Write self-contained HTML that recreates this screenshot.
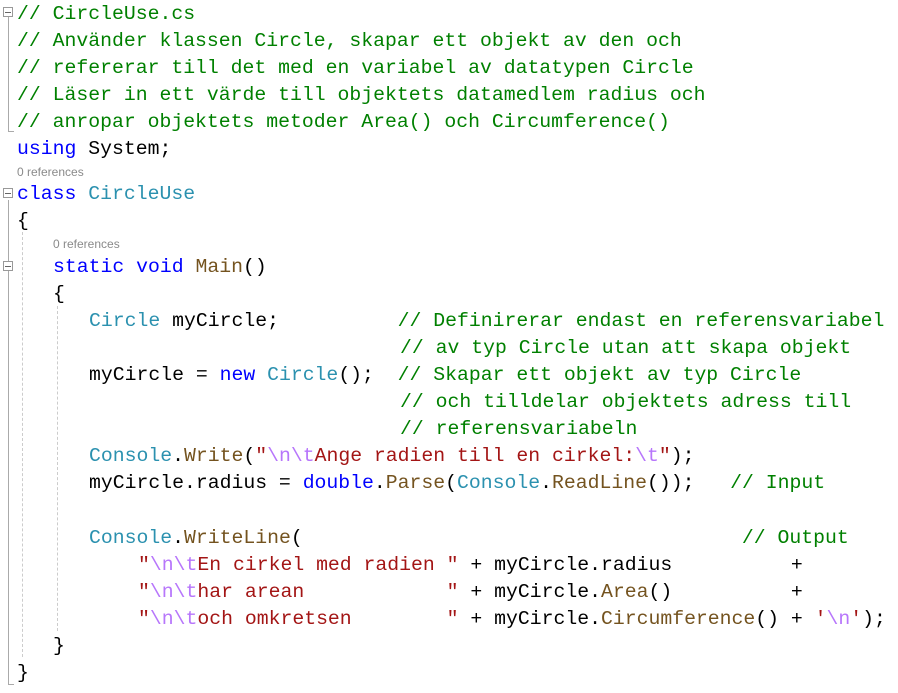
<!DOCTYPE html>
<html><head><meta charset="utf-8"><style>
body{margin:0;width:898px;height:693px;background:#fff;position:relative;overflow:hidden;font-family:"Liberation Mono",monospace;font-size:19.8px;}
.l{position:absolute;white-space:pre;line-height:27px;height:27px;}
.c{color:#008000}.k{color:#0000ff}.t{color:#2b91af}.m{color:#74531f}.s{color:#a31515}.e{color:#b776fb}
.r{position:absolute;font-family:"Liberation Sans",sans-serif;font-size:12px;color:#8a8a8a;}
.fold{position:absolute;width:8px;height:8px;border:1px solid #999;left:3px;background:#fff}
.fold:after{content:"";position:absolute;left:1px;top:3.5px;width:6px;height:1px;background:#666}
.v{position:absolute;width:1px;background:#aaa;left:8px}
.g{position:absolute;width:0;border-left:1px dashed #ccc}
</style></head><body>
<div class="v" style="top:14px;height:118px"></div><div style="position:absolute;left:8px;top:131px;width:6px;height:1px;background:#aaa"></div>
<div class="v" style="top:200px;height:485px"></div><div style="position:absolute;left:8px;top:684px;width:6px;height:1px;background:#aaa"></div>
<div class="fold" style="top:7px"></div>
<div class="fold" style="top:188px"></div>
<div class="fold" style="top:261px"></div>
<div class="g" style="left:22px;top:232px;height:425px"></div>
<div class="g" style="left:57px;top:306px;height:325px"></div>

<div class="l c" style="left:17px;top:1px">// CircleUse.cs</div>
<div class="l c" style="left:17px;top:28px">// Använder klassen Circle, skapar ett objekt av den och</div>
<div class="l c" style="left:17px;top:55px">// refererar till det med en variabel av datatypen Circle</div>
<div class="l c" style="left:17px;top:82px">// Läser in ett värde till objektets datamedlem radius och</div>
<div class="l c" style="left:17px;top:109px">// anropar objektets metoder Area() och Circumference()</div>
<div class="l" style="left:17px;top:136px"><span class="k">using</span> System;</div>
<div class="r" style="left:17px;top:165px">0 references</div>
<div class="l" style="left:17px;top:181px"><span class="k">class</span> <span class="t">CircleUse</span></div>
<div class="l" style="left:17px;top:208px">{</div>
<div class="r" style="left:53px;top:237px">0 references</div>
<div class="l" style="left:53px;top:254px"><span class="k">static</span> <span class="k">void</span> <span class="m">Main</span>()</div>
<div class="l" style="left:53px;top:281px">{</div>
<div class="l" style="left:89px;top:308px"><span class="t">Circle</span> myCircle;          <span class="c">// Definirerar endast en referensvariabel</span></div>
<div class="l c" style="left:400px;top:335px">// av typ Circle utan att skapa objekt</div>
<div class="l" style="left:89px;top:362px">myCircle = <span class="k">new</span> <span class="t">Circle</span>();  <span class="c">// Skapar ett objekt av typ Circle</span></div>
<div class="l c" style="left:400px;top:389px">// och tilldelar objektets adress till</div>
<div class="l c" style="left:400px;top:416px">// referensvariabeln</div>
<div class="l" style="left:89px;top:443px"><span class="t">Console</span>.<span class="m">Write</span>(<span class="s">"</span><span class="e">\n\t</span><span class="s">Ange radien till en cirkel:</span><span class="e">\t</span><span class="s">"</span>);</div>
<div class="l" style="left:89px;top:470px">myCircle.radius = <span class="k">double</span>.<span class="m">Parse</span>(<span class="t">Console</span>.<span class="m">ReadLine</span>());   <span class="c">// Input</span></div>
<div class="l" style="left:89px;top:525px"><span class="t">Console</span>.<span class="m">WriteLine</span>(                                     <span class="c">// Output</span></div>
<div class="l" style="left:138px;top:552px"><span class="s">"</span><span class="e">\n\t</span><span class="s">En cirkel med radien "</span> + myCircle.radius          +</div>
<div class="l" style="left:138px;top:579px"><span class="s">"</span><span class="e">\n\t</span><span class="s">har arean            "</span> + myCircle.<span class="m">Area</span>()          +</div>
<div class="l" style="left:138px;top:606px"><span class="s">"</span><span class="e">\n\t</span><span class="s">och omkretsen        "</span> + myCircle.<span class="m">Circumference</span>() + <span class="s">'</span><span class="e">\n</span><span class="s">'</span>);</div>
<div class="l" style="left:53px;top:633px">}</div>
<div class="l" style="left:17px;top:660px">}</div>
</body></html>
